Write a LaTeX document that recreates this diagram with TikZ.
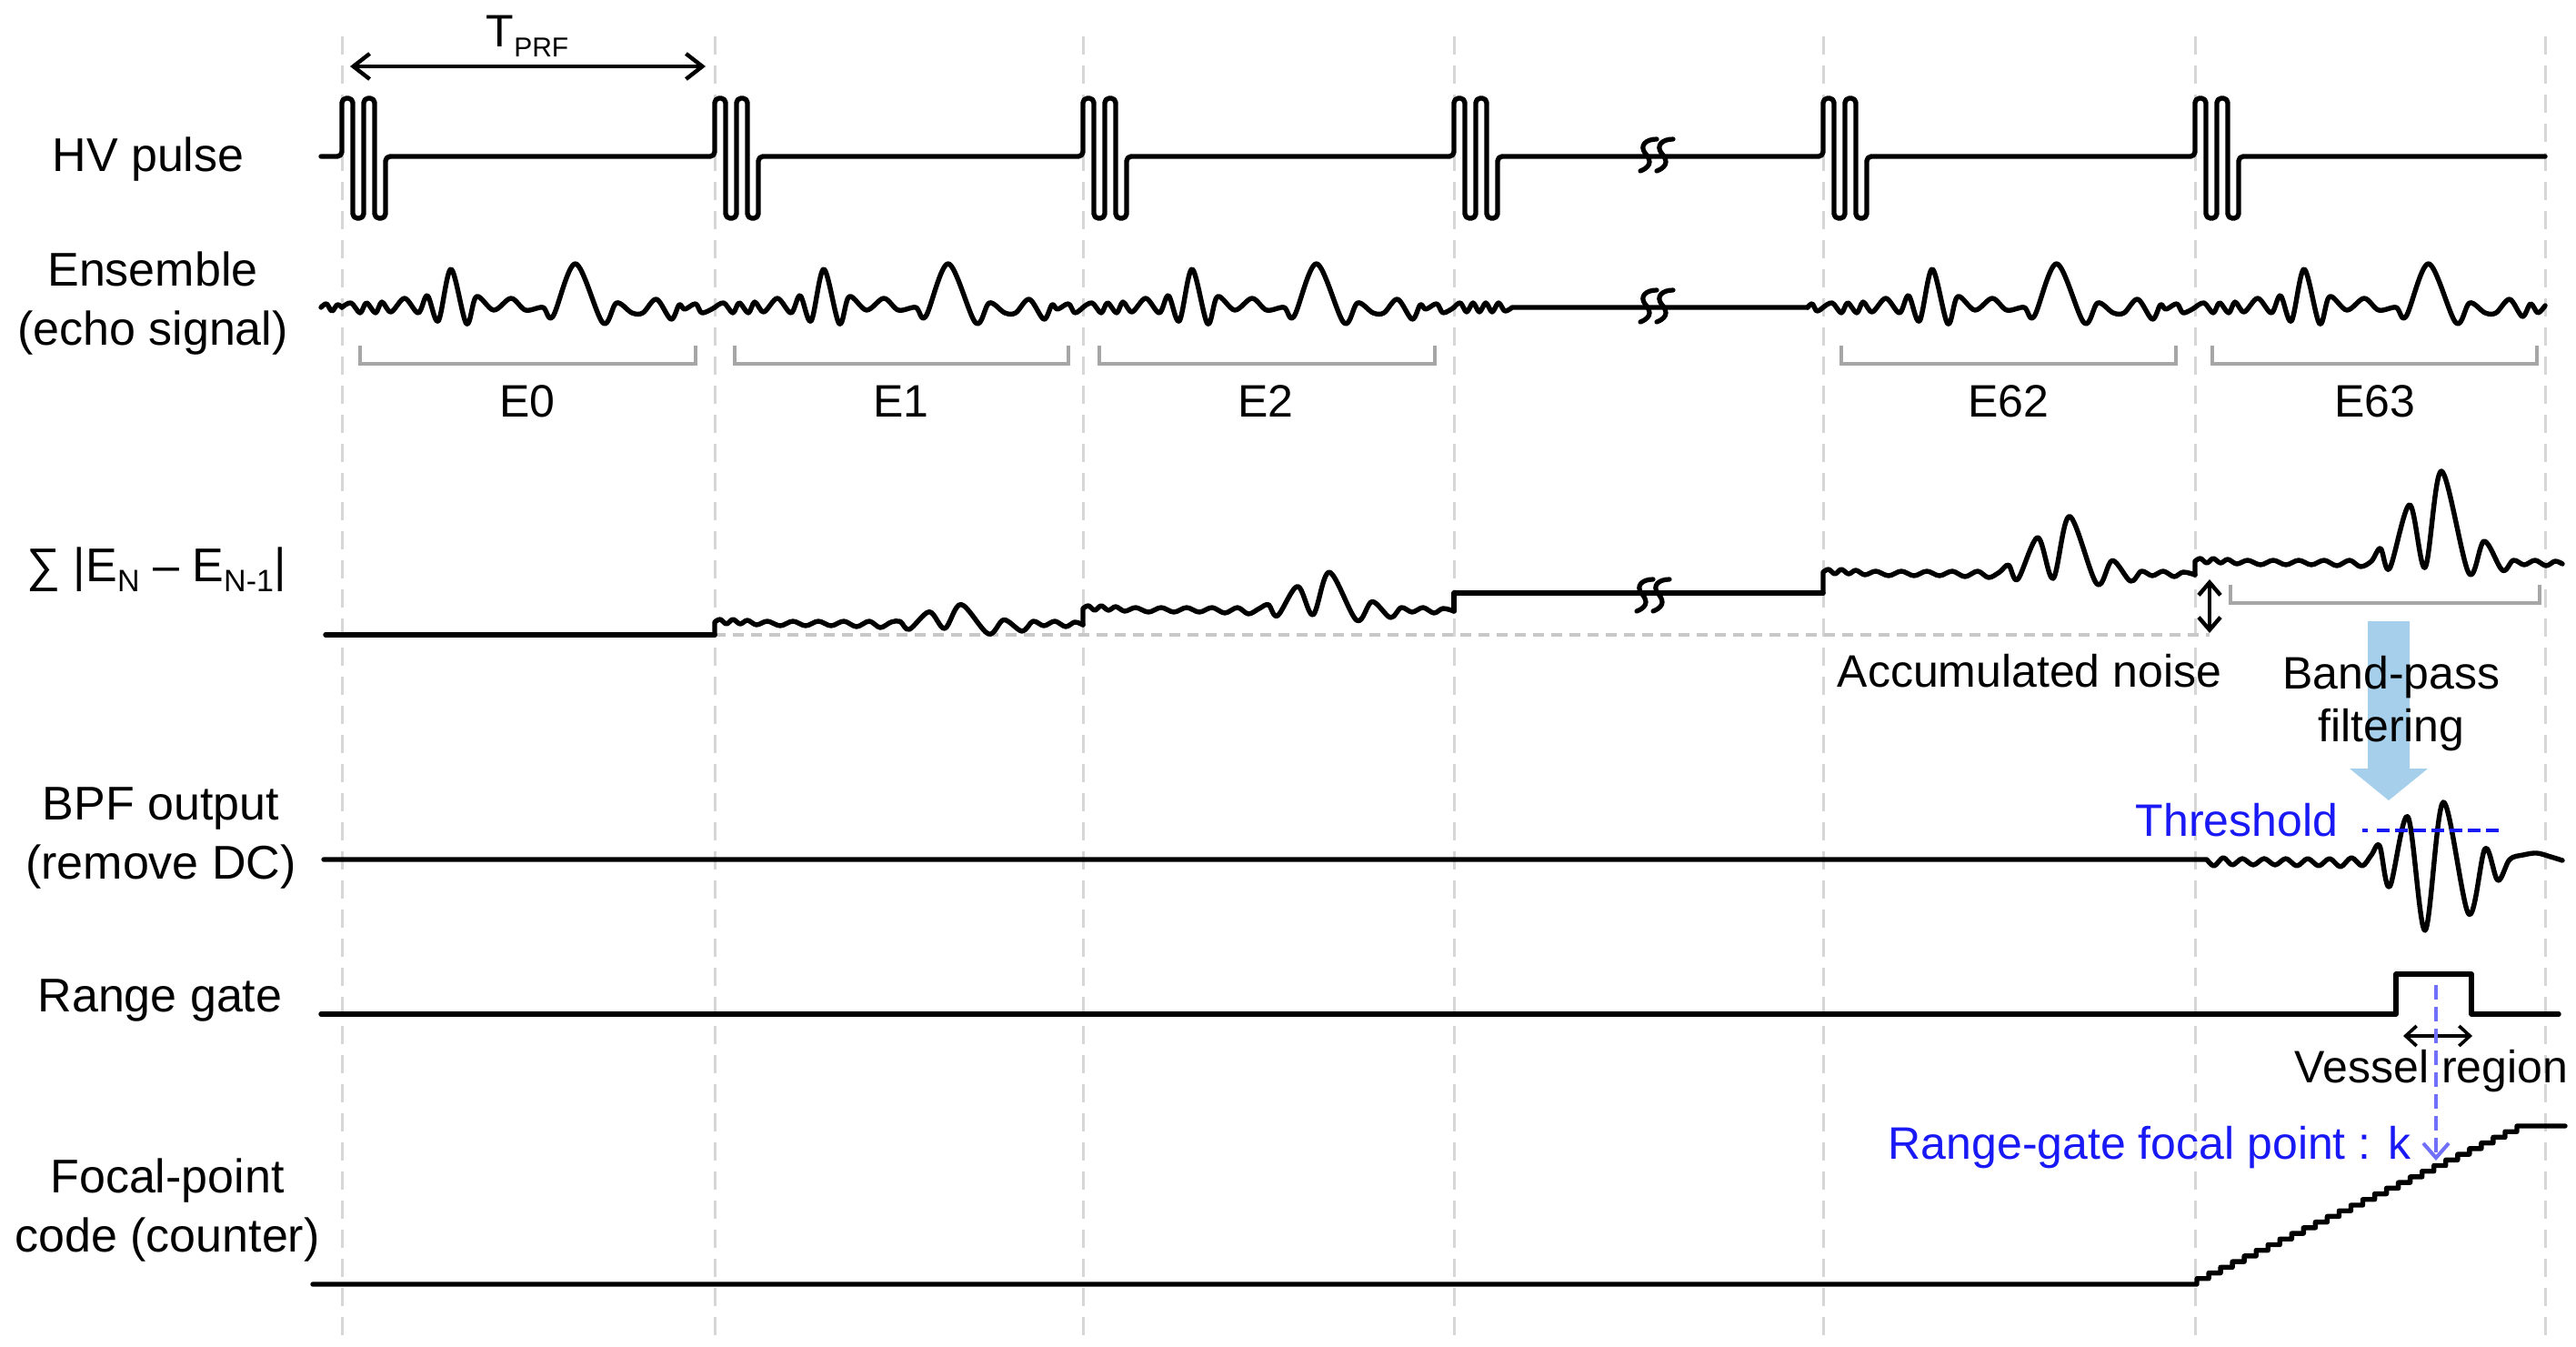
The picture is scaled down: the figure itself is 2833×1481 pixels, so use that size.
\documentclass[tikz,border=0pt]{standalone}
\usepackage{fontspec}
\setmainfont{Liberation Sans}
\usetikzlibrary{arrows.meta}
\definecolor{gridgray}{RGB}{214,214,214}
\definecolor{brgray}{RGB}{166,166,166}
\definecolor{noisegray}{RGB}{200,200,200}
\definecolor{thblue}{RGB}{25,25,245}
\definecolor{rgblue}{RGB}{112,112,250}
\definecolor{arrblue}{RGB}{165,207,235}
\newcommand{\subtx}[2]{\raisebox{-0.22em}{\fontsize{#1}{#1}\selectfont #2}}
\begin{document}
\begin{tikzpicture}[x=0.5pt,y=-0.5pt,
  sig/.style={line width=2.7pt,line join=round,line cap=round},
  vgrid/.style={line width=1.5pt,draw=gridgray,dash pattern=on 10pt off 6pt},
  brack/.style={line width=2.2pt,draw=brgray},
  lbl/.style={align=center,inner sep=0pt,font=\fontsize{26pt}{32.5pt}\selectfont},
  ann/.style={align=center,inner sep=0pt,font=\fontsize{25pt}{29pt}\selectfont},
  dblarrow/.style={line width=2.2pt,{Straight Barb[length=9pt,width=14pt]}-{Straight Barb[length=9pt,width=14pt]}},
  brksym/.pic={
    \foreach \o in {-9,9}
      \draw[line width=2.6pt,line cap=round] (\o+9,-17) .. controls (\o-3,-17) and (\o-10,-10) .. (\o-4,-2) .. controls (\o+1,4) and (\o+6,12) .. (\o-9,18);
  }
]
\fill[white] (0,0) rectangle (2833,1481);
\useasboundingbox (0,0) rectangle (2833,1481);

% ---------- vertical grid ----------
\foreach \gx in {376,786,1191,1599,2005,2414,2799}
  \draw[vgrid] (\gx,40) -- (\gx,1468);

% ---------- labels ----------
\node[lbl] (hv)  at (163,175)  {HV pulse};
\node[lbl] (ens) at (168,334)  {Ensemble\\(echo signal)};
\node[lbl] (sum) at (172,626)  {∑ |E\subtx{17pt}{N} – E\subtx{17pt}{N-1}|};
\node[lbl] (bpf) at (177,921)  {BPF output\\(remove DC)};
\node[lbl] (rg)  at (176,1100) {Range gate};
\node[lbl] (fp)  at (184,1331) {Focal-point\\code (counter)};

% ---------- T_PRF ----------
\node[ann] (tprf) at (580,40) {T\subtx{15pt}{PRF}};
\coordinate (tpa) at (385,73);
\coordinate (tpb) at (776,73);
\draw[dblarrow] (tpa) -- (tpb);

% ---------- HV pulse ----------
\draw[sig,rounded corners=2.5pt] (353,172)
  \foreach \p in {376,786,1191,1599,2005,2414} {
    -- (\p,172) -- (\p,108) -- ++(12,0) -- ++(0,132) -- ++(12,0) -- ++(0,-132)
    -- ++(12,0) -- ++(0,132) -- ++(12,0) -- ++(0,-68) }
  -- (2799,172);
\pic at (1822,170) {brksym};

% ---------- Ensemble (echo) ----------
\draw[sig] plot[smooth,tension=0.55] coordinates {(353,338) (359,334) (365,342) (371,335) (376,338)};
\foreach \x/\L in {376/410,786/405,1191/408,2005/409}{
  \begin{scope}[shift={(\x,338)}]
    \draw[sig] plot[smooth,tension=0.55] coordinates {(0,0) (10,-5) (20,6) (27,-5) (37,6) (44,-6) (54,5) (69,-10) (84,6) (94,-13) (106,15) (120,-42) (137,18) (148,-12) (167,3) (186,-10) (202,3) (221,0) (232,10) (257,-48) (287,17) (302,-5) (319,6) (331,6) (346,-9) (362,13) (371,-3) (377,2) (389,-4) (396,6) (\L,0)};
  \end{scope}
}
\begin{scope}[shift={(2414,338)}]
  \draw[sig] plot[smooth,tension=0.55] coordinates {(0,0) (10,-5) (20,6) (27,-5) (37,6) (44,-6) (54,5) (69,-10) (84,6) (94,-13) (106,15) (120,-42) (137,18) (148,-12) (167,3) (186,-10) (202,3) (221,0) (232,10) (257,-48) (287,17) (302,-5) (319,6) (331,6) (346,-9) (360,10) (369,-4) (377,6) (385,-2)};
\end{scope}
\draw[sig] plot[smooth,tension=0.55] coordinates {(1599,338) (1606,333) (1613,343) (1620,333) (1627,343) (1634,333) (1641,343) (1648,333) (1655,342) (1663,338)} -- (1988,338);
\draw[sig] plot[smooth,tension=0.55] coordinates {(1988,338) (1993,334) (1998,342) (2005,338)};
\pic at (1822,336) {brksym};

% ---------- brackets ----------
\foreach \a/\b in {396/765,808/1175,1209/1578,2025/2393,2433/2790}
  \draw[brack] (\a,380) -- (\a,400) -- (\b,400) -- (\b,380);
\node[ann] (e0)  at (580,441)  {E0};
\node[ann] (e1)  at (991,441)  {E1};
\node[ann] (e2)  at (1392,441) {E2};
\node[ann] (e62) at (2209,441) {E62};
\node[ann] (e63) at (2612,441) {E63};

% ---------- Sum |EN - EN-1| ----------
\draw[noisegray,line width=2pt,dash pattern=on 6pt off 4pt] (786,698) -- (2430,698);
\draw[sig] (358,698) -- (786,698);
\foreach \x/\L/\lev/\prev/\s in {786/405/687/698/0.22,1191/408/672/687/0.42,2005/409/632/652/0.63,2414/404/620/632/1.0}{
  \begin{scope}[shift={(\x,\lev)}]
    \draw[sig] (0,\prev-\lev) -- plot[smooth,tension=0.55] coordinates {(0,-3) (6,-6) (13,-1) (20,-6) (28,-1) (36,-5) (46,0) (58,-4) (72,1) (86,-4) (100,1) (114,-4) (128,1) (142,-4) (156,2) (170,-4) (182,3) (194,-3) (204,{-17*\s}) (214,5) (236,{-65*\s}) (253,4) (271,{-102*\s}) (301,10) (318,{-25*\s}) (338,7) (350,-4) (362,1) (374,-4) (386,2) (396,-3) (\L,0)};
  \end{scope}
}
\draw[sig] (1599,672) -- (1599,652) -- (2005,652);
\pic at (1818,654) {brksym};
\draw[brack] (2453,643) -- (2453,663) -- (2793,663) -- (2793,643);
\coordinate (ana) at (2430,637);
\coordinate (anb) at (2430,696);
\draw[line width=2.2pt,{Straight Barb[length=7pt,width=12pt]}-{Straight Barb[length=7pt,width=12pt]}] (ana) -- (anb);
\node[ann] (accn) at (2232,738) {Accumulated noise};

% ---------- band-pass arrow ----------
\fill[arrblue] (2604,683) -- (2650,683) -- (2650,845) -- (2670,845) -- (2627,880) -- (2584,845) -- (2604,845) -- cycle;
\node[ann] (bpt) at (2630,774) {Band-pass\\filtering};

% ---------- BPF output ----------
\draw[sig] (356,945) -- (2427,945) -- plot[smooth,tension=0.55] coordinates {(2427,945) (2435,952) (2445,943) (2455,951) (2466,944) (2478,951) (2490,944) (2502,951) (2514,944) (2526,952) (2538,944) (2550,952) (2562,944) (2574,953) (2586,943) (2598,952) (2608,940) (2617,930) (2628,975) (2648,898) (2667,1023) (2687,882) (2715,1005) (2733,933) (2747,968) (2760,945) (2775,940) (2790,938) (2805,942) (2818,946)};
\draw[thblue,line width=2pt] (2598,913) -- (2604,913);
\draw[thblue,line width=2pt,dash pattern=on 7pt off 3pt] (2614,913) -- (2750,913);
\node[ann,text=thblue] (thr) at (2460,902) {Threshold};

% ---------- Range gate ----------
\draw[sig] (353,1115) -- (2635,1115) -- (2635,1071) -- (2718,1071) -- (2718,1115) -- (2814,1115);
\coordinate (vra) at (2643,1139);
\coordinate (vrb) at (2719,1139);
\draw[line width=1.8pt,{Straight Barb[length=6pt,width=11pt]}-{Straight Barb[length=6pt,width=11pt]}] (vra) -- (vrb);
\node[ann] (vr) at (2674,1178) {Vessel region};

% ---------- Focal-point counter ----------
\draw[sig] (344,1412) -- (2416,1412)
  \foreach \i in {1,...,28} { -- ++(0,-6.214) -- ++(13.036,0) }
  -- (2821,1238);
\node[ann,text=thblue] (rgf) at (2364,1262) {Range-gate focal point : k};
\coordinate (rga) at (2679,1083);
\coordinate (rgb) at (2679,1276);
\draw[rgblue,line width=2pt,dash pattern=on 8pt off 4pt,-{Straight Barb[length=8pt,width=14pt]}] (rga) -- (rgb);
\end{tikzpicture}
\end{document}
